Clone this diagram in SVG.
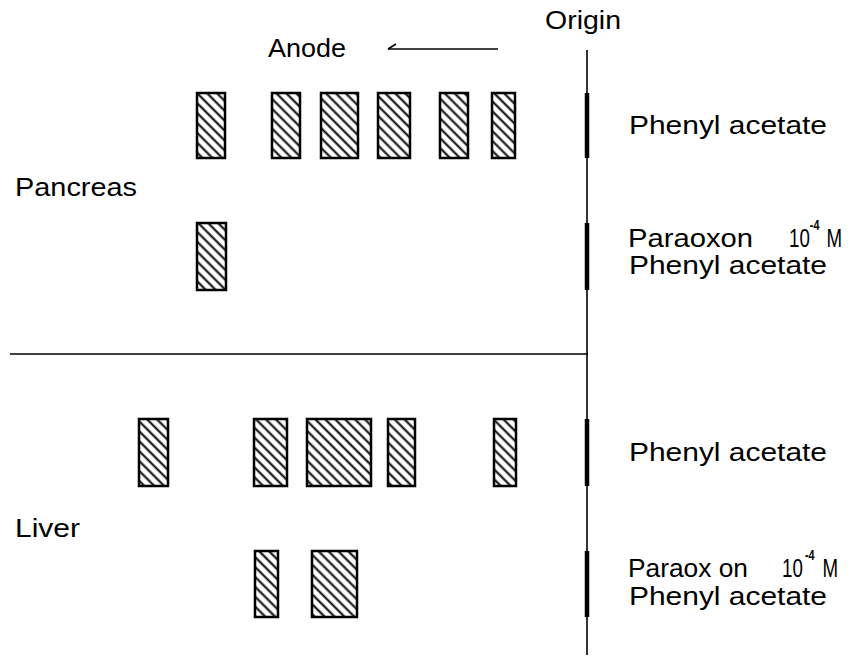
<svg xmlns="http://www.w3.org/2000/svg" width="852" height="659" viewBox="0 0 852 659">
  <defs>
    <!-- diagonal hatching used inside each band -->
    <pattern id="hatch" patternUnits="userSpaceOnUse" width="10" height="7" patternTransform="rotate(45)">
      <line x1="-1" y1="3.5" x2="11" y2="3.5" stroke="#000" stroke-width="2"/>
    </pattern>
    <style>
      .band { fill: url(#hatch); stroke: #000; stroke-width: 2.5; }
      .lbl { font-family: "Liberation Sans", "DejaVu Sans", sans-serif; font-size: 26px; fill: #000; }
      .sup { font-size: 15px; font-weight: bold; }
      .axis { stroke: #000; stroke-width: 1.6; fill: none; }
      .slot { stroke: #000; stroke-width: 4.5; fill: none; }
    </style>
  </defs>
  <rect width="852" height="659" fill="#fff"/>

  <!-- origin line, section divider and direction arrow -->
  <g id="connectors">
    <line class="axis" x1="587" y1="50" x2="587" y2="655"/>
    <line class="axis" x1="10" y1="354" x2="588" y2="354"/>
    <line class="slot" x1="587" y1="93" x2="587" y2="158"/>
    <line class="slot" x1="587" y1="223" x2="587" y2="290"/>
    <line class="slot" x1="587" y1="419" x2="587" y2="486"/>
    <line class="slot" x1="587" y1="551" x2="587" y2="617"/>
    <line class="axis" x1="388" y1="49" x2="498" y2="49"/>
    <path class="axis" d="M388 49 L396 44"/>
  </g>

  <g id="labels">
    <text class="lbl" x="545" y="29" textLength="76" lengthAdjust="spacingAndGlyphs">Origin</text>
    <text class="lbl" x="268" y="57" textLength="78" lengthAdjust="spacingAndGlyphs">Anode</text>
    <text class="lbl" x="15" y="196" textLength="122" lengthAdjust="spacingAndGlyphs">Pancreas</text>
    <text class="lbl" x="15" y="537" textLength="65" lengthAdjust="spacingAndGlyphs">Liver</text>
  </g>

  <!-- pancreas, phenyl acetate -->
  <g id="pancreas-pa">
    <rect class="band" x="197" y="93" width="28" height="65"/>
    <rect class="band" x="272" y="93" width="28" height="65"/>
    <rect class="band" x="321" y="93" width="37" height="65"/>
    <rect class="band" x="378" y="93" width="32" height="65"/>
    <rect class="band" x="440" y="93" width="28" height="65"/>
    <rect class="band" x="492" y="93" width="23" height="65"/>
    <text class="lbl" x="629" y="134" textLength="198" lengthAdjust="spacingAndGlyphs">Phenyl acetate</text>
  </g>

  <!-- pancreas, paraoxon + phenyl acetate -->
  <g id="pancreas-px">
    <rect class="band" x="197" y="223" width="29" height="67"/>
    <text class="lbl" x="628" y="247" textLength="125" lengthAdjust="spacingAndGlyphs">Paraoxon</text>
    <text class="lbl" transform="translate(789 247) scale(0.72 1)">10<tspan class="sup" dy="-17">-4</tspan><tspan dx="10" dy="17">M</tspan></text>
    <text class="lbl" x="629" y="274" textLength="198" lengthAdjust="spacingAndGlyphs">Phenyl acetate</text>
  </g>

  <!-- liver, phenyl acetate -->
  <g id="liver-pa">
    <rect class="band" x="139" y="419" width="29" height="67"/>
    <rect class="band" x="254" y="419" width="33" height="67"/>
    <rect class="band" x="307" y="419" width="64" height="67"/>
    <rect class="band" x="388" y="419" width="27" height="67"/>
    <rect class="band" x="494" y="419" width="22" height="67"/>
    <text class="lbl" x="629" y="461" textLength="198" lengthAdjust="spacingAndGlyphs">Phenyl acetate</text>
  </g>

  <!-- liver, paraoxon + phenyl acetate -->
  <g id="liver-px">
    <rect class="band" x="255" y="551" width="23" height="66"/>
    <rect class="band" x="312" y="551" width="45" height="66"/>
    <text class="lbl" x="628" y="577" textLength="120" lengthAdjust="spacingAndGlyphs">Paraox on</text>
    <text class="lbl" transform="translate(782 577) scale(0.72 1)">10<tspan class="sup" dy="-17" dx="3">-4</tspan><tspan dx="11" dy="17">M</tspan></text>
    <text class="lbl" x="629" y="605" textLength="198" lengthAdjust="spacingAndGlyphs">Phenyl acetate</text>
  </g>
</svg>
